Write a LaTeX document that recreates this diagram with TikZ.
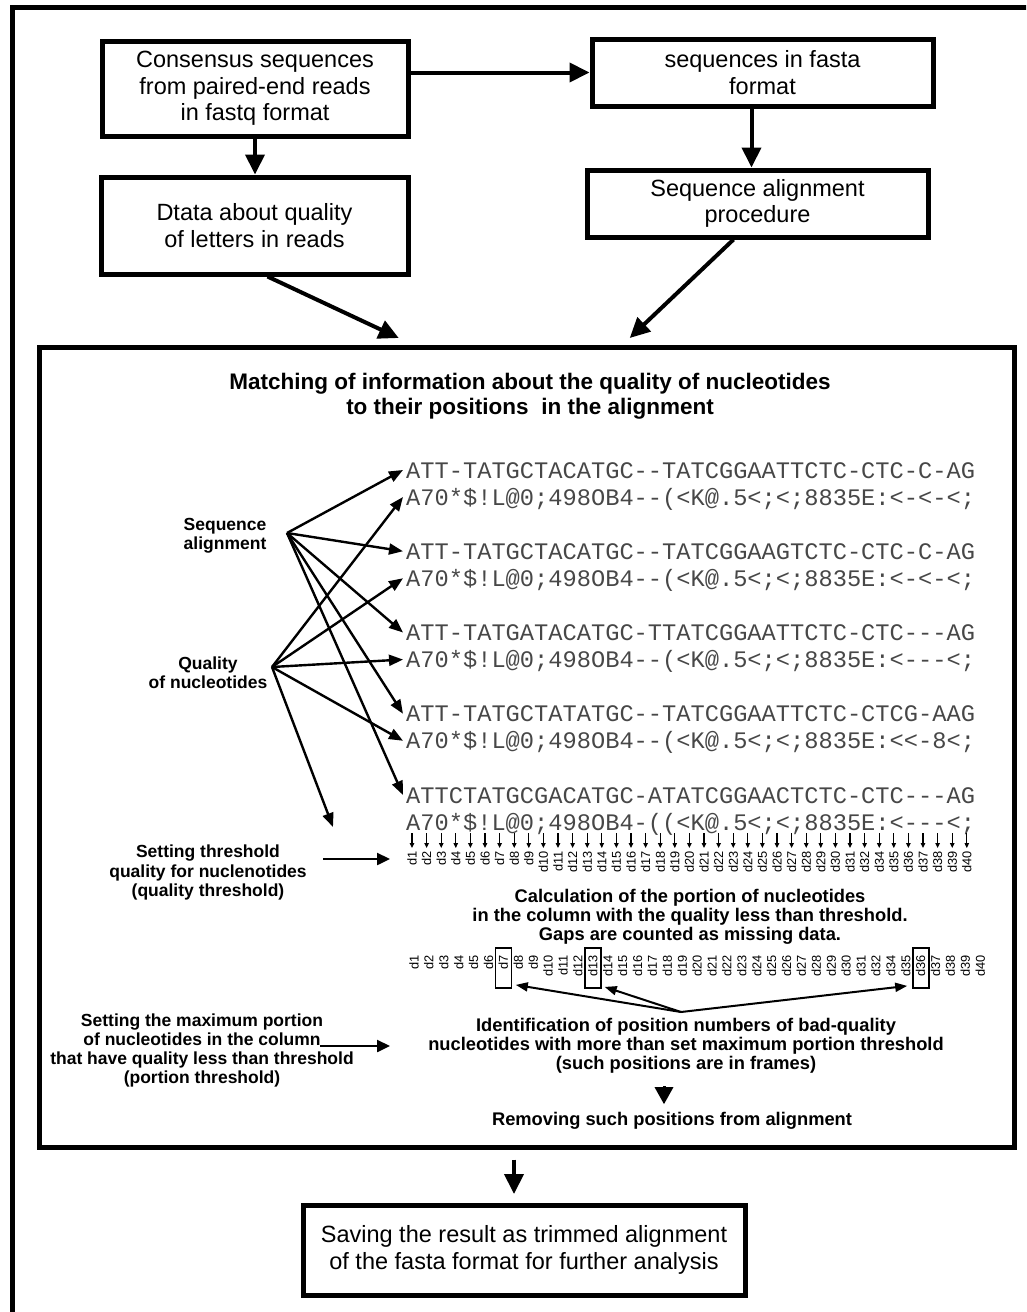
\documentclass[tikz,border=0pt]{standalone}
\usepackage{fontspec}
\setmainfont{Liberation Sans}
\newfontfamily\monof[Ligatures=TeXOff]{Liberation Mono}
\usetikzlibrary{arrows.meta}
\begin{document}
\begin{tikzpicture}[x=1pt,y=-1pt, line join=miter,
  box/.style={draw, line width=5pt, align=center, font=\fontsize{23.5}{26.7}\selectfont, inner sep=0pt},
  big/.style={line width=4pt, -{Triangle[length=20pt,width=19pt]}},
  fan/.style={line width=2.4pt, -{Triangle[length=14pt,width=11pt]}},
  thr/.style={line width=2.4pt, -{Triangle[length=13pt,width=12pt]}},
  mid/.style={line width=2pt, -{Triangle[length=12pt,width=9pt]}},
  sm/.style={line width=1.1pt, -{Triangle[length=5pt,width=4.5pt]}},
  lbl/.style={font=\fontsize{17.5}{19.3}\selectfont\bfseries, align=center, inner sep=0pt},
  lblb/.style={font=\fontsize{18.3}{18.8}\selectfont\bfseries, align=center, inner sep=0pt},
  seq/.style={anchor=west, inner sep=0pt, font=\fontsize{23.7}{24}\monof, text=black!72, text height=16pt, text depth=0pt},
  dl/.style={rotate=90, anchor=east, inner sep=0pt, font=\fontsize{12.8}{13}\selectfont},
  frm/.style={draw, line width=1.8pt, minimum width=16pt, minimum height=40pt, inner sep=0pt}
  ]
\useasboundingbox (0,0) rectangle (1026,1312);
\clip (0,0) rectangle (1026,1312);
\draw[line width=5pt] (12.5,1330) -- (12.5,7.5) -- (1040,7.5);

% top boxes
\node[box, minimum width=306pt, minimum height=95pt] (b1) at (255,88.5) {Consensus sequences\\from paired-end reads\\in fastq format};
\node[box, minimum width=341pt, minimum height=67pt] (b2) at (762.5,72.5) {sequences in fasta\\format};
\node[box, minimum width=307pt, minimum height=97pt] (b3) at (254.5,225.5) {Dtata about quality\\of letters in reads};
\node[box, minimum width=341pt, minimum height=67pt] (b4) at (757.5,203.5) {Sequence alignment\\procedure};
\node[draw, line width=5pt, minimum width=974.5pt, minimum height=800pt, inner sep=0pt] (main) at (526.75,747) {};
\node[box, minimum width=442pt, minimum height=90pt] (b5) at (524,1250) {Saving the result as trimmed alignment\\of the fasta format for further analysis};

\draw[big] (b1.east |- b2.west) -- (b2.west);
\draw[big] (b1.south) -- (b1.south |- b3.north);
\draw[big] ([xshift=-11pt]b2.south) -- ([xshift=-11pt]b2.south |- b4.north);
\draw[big] ([xshift=13pt]b3.south) -- ([xshift=-128pt,yshift=6.5pt]main.north);
\draw[big] ([xshift=-24pt]b4.south) -- ([xshift=103pt,yshift=6.5pt]main.north);
\draw[big, shorten <=10pt] ([xshift=-10pt]b5.north |- main.south) -- ([xshift=-10pt,yshift=8.5pt]b5.north);

% title
\node[font=\fontsize{22.5}{25.5}\selectfont\bfseries, align=center, inner sep=0pt] (title) at (530,396) {Matching of information about the quality of nucleotides\\to their positions\ \ in the alignment};

% alignment lines
\node[seq] (L1) at (406,470) {ATT-TATGCTACATGC--TATCGGAATTCTC-CTC-C-AG};
\node[seq] (L2) at (406,497) {A70*\$!L@0;498OB4--(<K@.5<;<;8835E:<-<-<;};
\node[seq] (L3) at (406,551.25) {ATT-TATGCTACATGC--TATCGGAAGTCTC-CTC-C-AG};
\node[seq] (L4) at (406,578.25) {A70*\$!L@0;498OB4--(<K@.5<;<;8835E:<-<-<;};
\node[seq] (L5) at (406,632.5) {ATT-TATGATACATGC-TTATCGGAATTCTC-CTC---AG};
\node[seq] (L6) at (406,659.5) {A70*\$!L@0;498OB4--(<K@.5<;<;8835E:<---<;};
\node[seq] (L7) at (406,713.75) {ATT-TATGCTATATGC--TATCGGAATTCTC-CTCG-AAG};
\node[seq] (L8) at (406,740.75) {A70*\$!L@0;498OB4--(<K@.5<;<;8835E:<<-8<;};
\node[seq] (L9) at (406,795) {ATTCTATGCGACATGC-ATATCGGAACTCTC-CTC---AG};
\node[seq] (L10) at (406,822) {A70*\$!L@0;498OB4-((<K@.5<;<;8835E:<---<;};

% left labels
\node[lbl] (sa) at (225,535.5) {Sequence\\alignment};
\node[lbl] (qn) at (208,672.5) {Quality\\of nucleotides};
\node[lbl] (st) at (208,872.5) {Setting threshold\\quality for nuclenotides\\(quality threshold)};
\node[lbl] (smp) at (202,1050.5) {Setting the maximum portion\\of nucleotides in the column\\that have quality less than threshold\\(portion threshold)};

\coordinate (saO) at (287,533);
\coordinate (qnO) at (272,667);
\coordinate (qnE) at (333,827);
\foreach \t in {L1,L3,L5,L7,L9} \draw[fan] (saO) -- ([xshift=-3pt]\t.west);
\foreach \t in {L2,L4,L6,L8} \draw[fan] (qnO) -- ([xshift=-3pt]\t.west);
\draw[fan] (qnO) -- (qnE);

\coordinate (stS) at (323,859);
\coordinate (stT) at (390,859);
\draw[thr] (stS) -- (stT);
\coordinate (smS) at (320,1046);
\coordinate (smT) at (390,1046);
\draw[thr] (smS) -- (smT);

% column labels
\foreach \n [count=\i from 0] in {1,2,3,4,5,6,7,8,9,10,11,12,13,14,15,16,17,18,19,20,21,22,23,24,25,26,27,28,29,30,31,32,34,35,36,37,38,39,40} {
  \node[dl] (a\n) at ({412+14.6*\i},851) {d\n};
  \draw[sm] ({412+14.6*\i},833) -- ([yshift=3pt]a\n.east);
  \node[dl] (c\n) at ({414+14.9*\i},955) {d\n};
}

\node[lblb] (calc) at (690,916.5) {Calculation of the portion of nucleotides\\in the column with the quality less than threshold.\\Gaps are counted as missing data.};

\node[frm] (f7) at (c7 |- 0,968) {};
\node[frm] (f13) at (c13 |- 0,968) {};
\node[frm] (f36) at (c36 |- 0,968) {};

\coordinate (conv) at (681,1012);
\draw[mid] (conv) -- ([xshift=3.5pt,yshift=4pt]f7.south east);
\draw[mid] (conv) -- ([xshift=3pt,yshift=2pt]f13.south east);
\draw[mid] (conv) -- ([xshift=-4.5pt,yshift=3pt]f36.south west);

\node[lblb] (ident) at (686,1046) {Identification of position numbers of bad-quality\\nucleotides with more than set maximum portion threshold\\(such positions are in frames)};
\node[lblb] (rem) at (672,1121) {Removing such positions from alignment};
\draw[line width=3pt, -{Triangle[length=17pt,width=18pt]}] ([xshift=-8pt,yshift=26pt]rem.north) -- ([xshift=-8pt,yshift=8pt]rem.north);
\end{tikzpicture}
\end{document}
